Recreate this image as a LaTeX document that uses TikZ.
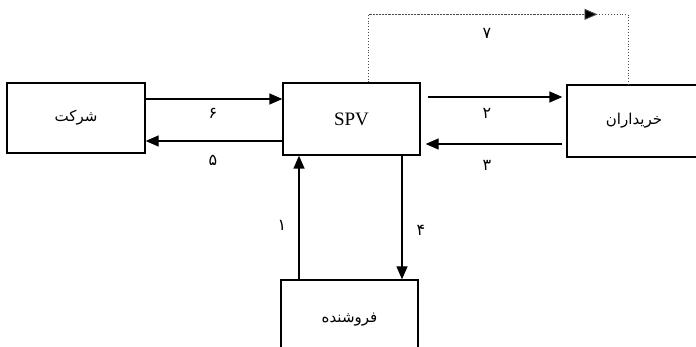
\documentclass[tikz,border=0pt]{standalone}
\usepackage{fontspec}
\setmainfont{Liberation Serif}
\newfontfamily\arabicfont[Script=Arabic]{DejaVu Sans}
\TeXXeTstate=1
\usetikzlibrary{arrows.meta}
\usetikzlibrary{positioning}

\begin{document}
\begin{tikzpicture}[x=1pt,y=-1pt,
  party/.style={draw=black,line width=1.3pt,inner sep=0pt,font=\arabicfont\fontsize{15}{17}\selectfont},
  flow/.style={draw=black,line width=1.3pt,-{Triangle[length=13pt,width=11pt]}},
  flowdot/.style={draw=black!70,line width=0.9pt,dotted},
  num/.style={font=\arabicfont\fontsize{16}{18}\selectfont,text=black}]
\useasboundingbox (0,0) rectangle (696,347);

\node[party,minimum width=138pt,minimum height=70pt] (firm) at (76,118) {\beginR شرکت\endR};
\node[party,minimum width=137pt,minimum height=72pt,font=\rmfamily\fontsize{19}{21}\selectfont] (spv) at (351.5,119) {SPV};
\node[party,minimum width=134pt,minimum height=72pt] (buyers) at (634,121) {\beginR خریداران\endR};
\node[party,minimum width=137pt,minimum height=80pt] (seller) at (349.5,320) {\beginR فروشنده\endR};

% firm <-> SPV
\draw[flow] ([yshift=20pt]spv.west -| firm.east) -- ([yshift=20pt]spv.west);
\draw[flow] ([yshift=-22pt]spv.west) -- ([yshift=-22pt]spv.west -| firm.east);
\node[num] (n6) at (213,113) {۶};
\node[num] (n5) at (213,160) {۵};

% SPV <-> buyers
\draw[flow,shorten >=4pt] ([xshift=7pt,yshift=22pt]spv.east) -- ([yshift=22pt]spv.east -| buyers.west);
\draw[flow,shorten <=4pt] ([yshift=-25pt]spv.east -| buyers.west) -- ([xshift=5pt,yshift=-25pt]spv.east);
\node[num] (n2) at (487,113) {۲};
\node[num] (n3) at (487,165) {۳};

% SPV -> buyers (dotted, over the top)
\coordinate (top7) at ([xshift=17pt,yshift=68pt]spv.north);
\draw[flowdot] ([xshift=17pt]spv.north) -- (top7) -| ([xshift=-6pt]buyers.north);
\draw[flowdot,-{Triangle[length=13pt,width=11pt,fill=black]}] (top7) -- ++(229,0);
\node[num] (n7) at (487,33) {۷};

% seller <-> SPV
\draw[flow] ([xshift=-52.5pt]spv.south |- seller.north) -- ([xshift=-52.5pt]spv.south);
\draw[flow] ([xshift=50.5pt]spv.south) -- ([xshift=50.5pt]spv.south |- seller.north);
\node[num] (n1) at (282,225) {۱};
\node[num] (n4) at (421,230) {۴};

\end{tikzpicture}
\end{document}
